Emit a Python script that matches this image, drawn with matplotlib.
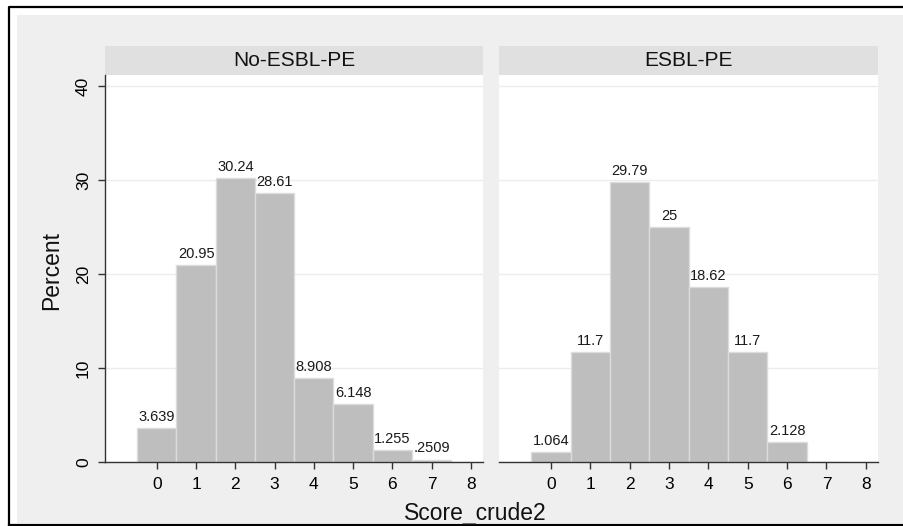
import matplotlib.pyplot as plt
from matplotlib.patches import Rectangle
from matplotlib.lines import Line2D

plt.rcParams['font.family'] = ['Liberation Sans', 'DejaVu Sans']

# percent of patients at each score, by group
scores = [0, 1, 2, 3, 4, 5, 6, 7]
no_esbl = [3.639, 20.95, 30.24, 28.61, 8.908, 6.148, 1.255, 0.2509]
esbl = [1.064, 11.7, 29.79, 25, 18.62, 11.7, 2.128, 0]
panel_titles = ['No-ESBL-PE', 'ESBL-PE']
xticks = [0, 1, 2, 3, 4, 5, 6, 7, 8]
yticks = [0, 10, 20, 30, 40]

W, H = 904, 526
fig = plt.figure(figsize=(W / 100, H / 100), dpi=100)
fig.patch.set_facecolor('white')

def px(x, y):
    # pixel coords (top-left origin) -> figure fraction
    return x / W, 1 - y / H

# graph region background and outer frame
fig.patches.append(Rectangle(px(17, 523), (W - 17) / W, (523 - 15) / H,
                             transform=fig.transFigure, facecolor='#efefef',
                             edgecolor='none', zorder=-2))
fig.lines.append(Line2D([9 / W, 9 / W, 1], [1 - 525 / H, 1 - 7 / H, 1 - 7 / H],
                        transform=fig.transFigure, color='black', lw=1.6))
fig.lines.append(Line2D([9 / W, 1], [1 - 525 / H, 1 - 525 / H],
                        transform=fig.transFigure, color='black', lw=1.6))

def label(v):
    s = ('%.4g' % v)
    if s.startswith('0.'):
        s = s[1:]
    return s

panels = [(105, 483, no_esbl), (499, 878, esbl)]
for i, (x0, x1, vals) in enumerate(panels):
    left, bottom = px(x0, 462)
    ax = fig.add_axes([left, bottom, (x1 - x0) / W, (462 - 75) / H])
    ax.set_facecolor('white')
    ax.bar(scores, vals, width=1, color='#bebebe', edgecolor='#dcdcdc',
           linewidth=1, zorder=2)
    for s, v in zip(scores, vals):
        if v > 0:
            ax.annotate(label(v), (s, v), xytext=(0, 3), textcoords='offset points',
                        ha='center', va='bottom', fontsize=10.5, color='#1a1a1a',
                        zorder=3)
    ax.set_xlim(-1.32, 8.31)
    ax.set_ylim(0, 41.2)
    ax.set_xticks(xticks)
    ax.set_yticks(yticks)
    ax.grid(axis='y', color='#ececec', lw=1, zorder=1)
    ax.set_axisbelow(True)
    for sp in ['top', 'right']:
        ax.spines[sp].set_visible(False)
    ax.spines['bottom'].set_color('#333333')
    ax.spines['bottom'].set_linewidth(1)
    ax.tick_params(axis='x', direction='out', length=5, width=1, color='#333333',
                   labelsize=12.5, pad=6)
    if i == 0:
        ax.spines['left'].set_color('#333333')
        ax.spines['left'].set_linewidth(1)
        ax.tick_params(axis='y', direction='out', length=5, width=1,
                       color='#333333', labelsize=12.5, pad=5)
        for t in ax.get_yticklabels():
            t.set_rotation(90)
            t.set_va('center')
    else:
        ax.spines['left'].set_visible(False)
        ax.tick_params(axis='y', left=False, labelleft=False)
    # strip header
    sl, sb = px(x0, 75)
    fig.patches.append(Rectangle((sl, sb), (x1 - x0) / W, 29 / H,
                                 transform=fig.transFigure, facecolor='#e0e0e0',
                                 edgecolor='none', zorder=-1))
    fig.text((x0 + x1) / 2 / W, 1 - 60.5 / H, panel_titles[i], ha='center',
             va='center', fontsize=15, color='#111111')

fig.text(52 / W, 1 - 270 / H, 'Percent', rotation=90, ha='center', va='center',
         fontsize=16.5, color='#111111')
fig.text(475 / W, 1 - 520 / H, 'Score_crude2', ha='center', va='baseline',
         fontsize=16.5, color='#111111')

fig.savefig('out.png', dpi=100, facecolor=fig.get_facecolor())
